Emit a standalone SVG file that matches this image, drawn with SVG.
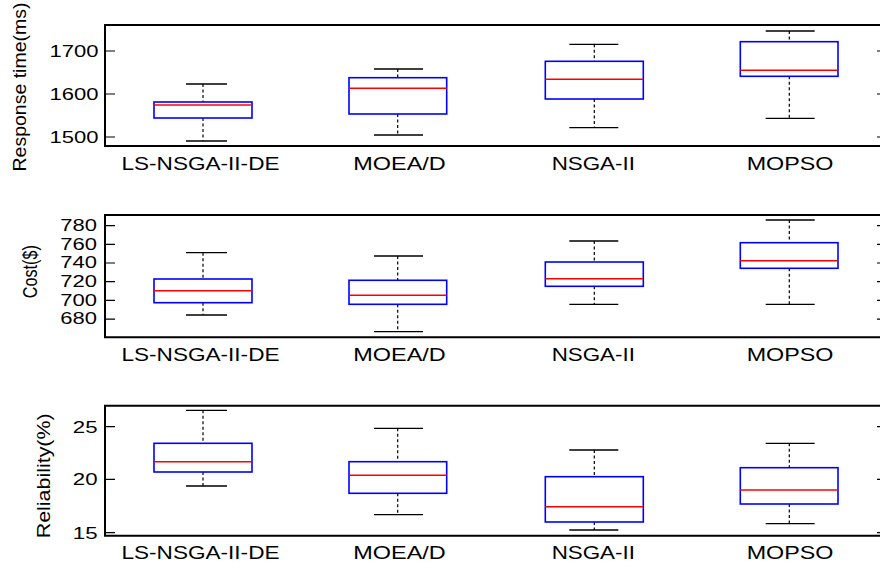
<svg xmlns="http://www.w3.org/2000/svg" width="880" height="569" viewBox="0 0 880 569">
<style>
.ax{stroke:#000;stroke-width:2;fill:none}
.tk{stroke:#000;stroke-width:1.2}
.box{fill:none;stroke:#0000ff;stroke-width:1.6}
.med{stroke:#ff0000;stroke-width:1.4}
.wh{stroke:#000;stroke-width:1.2;stroke-dasharray:3,2.5}
.cap{stroke:#000;stroke-width:1.3}
text{font-family:"Liberation Sans",Arial,sans-serif;fill:#000}
.tl{font-size:16.5px;text-anchor:end}
.xl{font-size:17.5px;text-anchor:middle}
.yl{font-size:17.5px;text-anchor:middle}
</style>
<rect width="880" height="569" fill="#fff"/>

<!-- Panel 1 -->
<g id="panel1">
  <path class="ax" d="M880,25 H105 V146 H880"/>
  <path class="tk" d="M105,51 H115 M105,94 H115 M105,137 H115 M877,51 H880 M877,94 H880 M877,137 H880"/>
  <text class="tl" x="98.5" y="57.3" textLength="49" lengthAdjust="spacingAndGlyphs" style="font-size:17px">1700</text>
  <text class="tl" x="98.5" y="100.3" textLength="49" lengthAdjust="spacingAndGlyphs" style="font-size:17px">1600</text>
  <text class="tl" x="98.5" y="143.3" textLength="49" lengthAdjust="spacingAndGlyphs" style="font-size:17px">1500</text>
  <text class="yl" transform="translate(26,87) rotate(-90)" textLength="169" lengthAdjust="spacingAndGlyphs">Response time(ms)</text>
  <g id="p1-ls">
    <path class="wh" d="M203,84 V102 M203,118 V141"/>
    <path class="cap" d="M186,84 H227 M186,141 H227"/>
    <rect class="box" x="154" y="102" width="98" height="16"/>
    <path class="med" d="M154,105 H252"/>
  </g>
  <g id="p1-moead">
    <path class="wh" d="M397.7,69 V77.7 M397.7,114 V135"/>
    <path class="cap" d="M374,69 H423 M374,135 H423"/>
    <rect class="box" x="349" y="77.7" width="97.7" height="36.3"/>
    <path class="med" d="M349,88.3 H446.7"/>
  </g>
  <g id="p1-nsga">
    <path class="wh" d="M594.3,44.3 V61.3 M594.3,99 V127.7"/>
    <path class="cap" d="M569.3,44.3 H618.3 M569.3,127.7 H618.3"/>
    <rect class="box" x="545.3" y="61.3" width="98" height="37.7"/>
    <path class="med" d="M545.3,79.3 H643.3"/>
  </g>
  <g id="p1-mopso">
    <path class="wh" d="M789.3,31 V41.7 M789.3,76.3 V118.3"/>
    <path class="cap" d="M765.7,31 H814.7 M765.7,118.3 H814.7"/>
    <rect class="box" x="740.3" y="41.7" width="97.7" height="34.6"/>
    <path class="med" d="M740.3,70.3 H838"/>
  </g>
  <text class="xl" x="200.5" y="169.6" textLength="158" lengthAdjust="spacingAndGlyphs">LS-NSGA-II-DE</text>
  <text class="xl" x="399.5" y="169.6" textLength="92.4" lengthAdjust="spacingAndGlyphs">MOEA/D</text>
  <text class="xl" x="593.3" y="169.6" textLength="83.3" lengthAdjust="spacingAndGlyphs">NSGA-II</text>
  <text class="xl" x="790" y="169.6" textLength="86.7" lengthAdjust="spacingAndGlyphs">MOPSO</text>
</g>

<!-- Panel 2 -->
<g id="panel2">
  <path class="ax" d="M880,215 H105 V337.3 H880"/>
  <path class="tk" d="M105,225.7 H115 M105,244.3 H115 M105,263 H115 M105,281.7 H115 M105,300.4 H115 M105,319.1 H115 M877,225.7 H880 M877,244.3 H880 M877,263 H880 M877,281.7 H880 M877,300.4 H880 M877,319.1 H880"/>
  <text class="tl" x="97" y="231" textLength="36.7" lengthAdjust="spacingAndGlyphs">780</text>
  <text class="tl" x="97" y="249.6" textLength="36.7" lengthAdjust="spacingAndGlyphs">760</text>
  <text class="tl" x="97" y="268.3" textLength="36.7" lengthAdjust="spacingAndGlyphs">740</text>
  <text class="tl" x="97" y="287" textLength="36.7" lengthAdjust="spacingAndGlyphs">720</text>
  <text class="tl" x="97" y="305.7" textLength="36.7" lengthAdjust="spacingAndGlyphs">700</text>
  <text class="tl" x="97" y="324.4" textLength="36.7" lengthAdjust="spacingAndGlyphs">680</text>
  <text class="yl" transform="translate(36.7,271.7) rotate(-90)" textLength="53" lengthAdjust="spacingAndGlyphs" style="font-size:19.5px">Cost($)</text>
  <g id="p2-ls">
    <path class="wh" d="M203,252.7 V279 M203,302.7 V315"/>
    <path class="cap" d="M186,252.7 H227 M186,315 H227"/>
    <rect class="box" x="154" y="279" width="98" height="23.7"/>
    <path class="med" d="M154,290.7 H252"/>
  </g>
  <g id="p2-moead">
    <path class="wh" d="M397.7,256 V280.3 M397.7,304.3 V331.7"/>
    <path class="cap" d="M374,256 H423 M374,331.7 H423"/>
    <rect class="box" x="349" y="280.3" width="97.7" height="24"/>
    <path class="med" d="M349,295.3 H446.7"/>
  </g>
  <g id="p2-nsga">
    <path class="wh" d="M594.3,241 V262 M594.3,286.3 V304.3"/>
    <path class="cap" d="M569.3,241 H618.3 M569.3,304.3 H618.3"/>
    <rect class="box" x="545.3" y="262" width="98" height="24.3"/>
    <path class="med" d="M545.3,278.7 H643.3"/>
  </g>
  <g id="p2-mopso">
    <path class="wh" d="M789.3,220 V242.7 M789.3,268.3 V304.3"/>
    <path class="cap" d="M765.7,220 H814.7 M765.7,304.3 H814.7"/>
    <rect class="box" x="740.3" y="242.7" width="97.7" height="25.6"/>
    <path class="med" d="M740.3,260.7 H838"/>
  </g>
  <text class="xl" x="200.5" y="361" textLength="158" lengthAdjust="spacingAndGlyphs">LS-NSGA-II-DE</text>
  <text class="xl" x="399.5" y="361" textLength="92.4" lengthAdjust="spacingAndGlyphs">MOEA/D</text>
  <text class="xl" x="593.3" y="361" textLength="83.3" lengthAdjust="spacingAndGlyphs">NSGA-II</text>
  <text class="xl" x="790" y="361" textLength="86.7" lengthAdjust="spacingAndGlyphs">MOPSO</text>
</g>

<!-- Panel 3 -->
<g id="panel3">
  <path class="ax" d="M880,405.7 H105 V535.7 H880"/>
  <path class="tk" d="M105,426.7 H115 M105,479.3 H115 M105,532.7 H115 M877,426.7 H880 M877,479.3 H880 M877,532.7 H880"/>
  <text class="tl" x="97.5" y="432.7" textLength="24.7" lengthAdjust="spacingAndGlyphs">25</text>
  <text class="tl" x="97.5" y="485.3" textLength="24.7" lengthAdjust="spacingAndGlyphs">20</text>
  <text class="tl" x="97.5" y="538.7" textLength="24.7" lengthAdjust="spacingAndGlyphs">15</text>
  <text class="yl" transform="translate(50,475.8) rotate(-90)" textLength="125" lengthAdjust="spacingAndGlyphs" style="font-size:18.5px">Reliability(%)</text>
  <g id="p3-ls">
    <path class="wh" d="M203,410.3 V443.3 M203,472 V486"/>
    <path class="cap" d="M186,410.3 H227 M186,486 H227"/>
    <rect class="box" x="154" y="443.3" width="98" height="28.7"/>
    <path class="med" d="M154,461.7 H252"/>
  </g>
  <g id="p3-moead">
    <path class="wh" d="M397.7,428.3 V461.7 M397.7,493.3 V514.7"/>
    <path class="cap" d="M374,428.3 H423 M374,514.7 H423"/>
    <rect class="box" x="349" y="461.7" width="97.7" height="31.6"/>
    <path class="med" d="M349,475.3 H446.7"/>
  </g>
  <g id="p3-nsga">
    <path class="wh" d="M594.3,450 V476.7 M594.3,522 V530"/>
    <path class="cap" d="M569.3,450 H618.3 M569.3,530 H618.3"/>
    <rect class="box" x="545.3" y="476.7" width="98" height="45.3"/>
    <path class="med" d="M545.3,506.7 H643.3"/>
  </g>
  <g id="p3-mopso">
    <path class="wh" d="M789.3,443.3 V467.7 M789.3,504 V523.7"/>
    <path class="cap" d="M765.7,443.3 H814.7 M765.7,523.7 H814.7"/>
    <rect class="box" x="740.3" y="467.7" width="97.7" height="36.3"/>
    <path class="med" d="M740.3,490 H838"/>
  </g>
  <text class="xl" x="200.5" y="559.3" textLength="158" lengthAdjust="spacingAndGlyphs">LS-NSGA-II-DE</text>
  <text class="xl" x="399.5" y="559.3" textLength="92.4" lengthAdjust="spacingAndGlyphs">MOEA/D</text>
  <text class="xl" x="593.3" y="559.3" textLength="83.3" lengthAdjust="spacingAndGlyphs">NSGA-II</text>
  <text class="xl" x="790" y="559.3" textLength="86.7" lengthAdjust="spacingAndGlyphs">MOPSO</text>
</g>
</svg>
